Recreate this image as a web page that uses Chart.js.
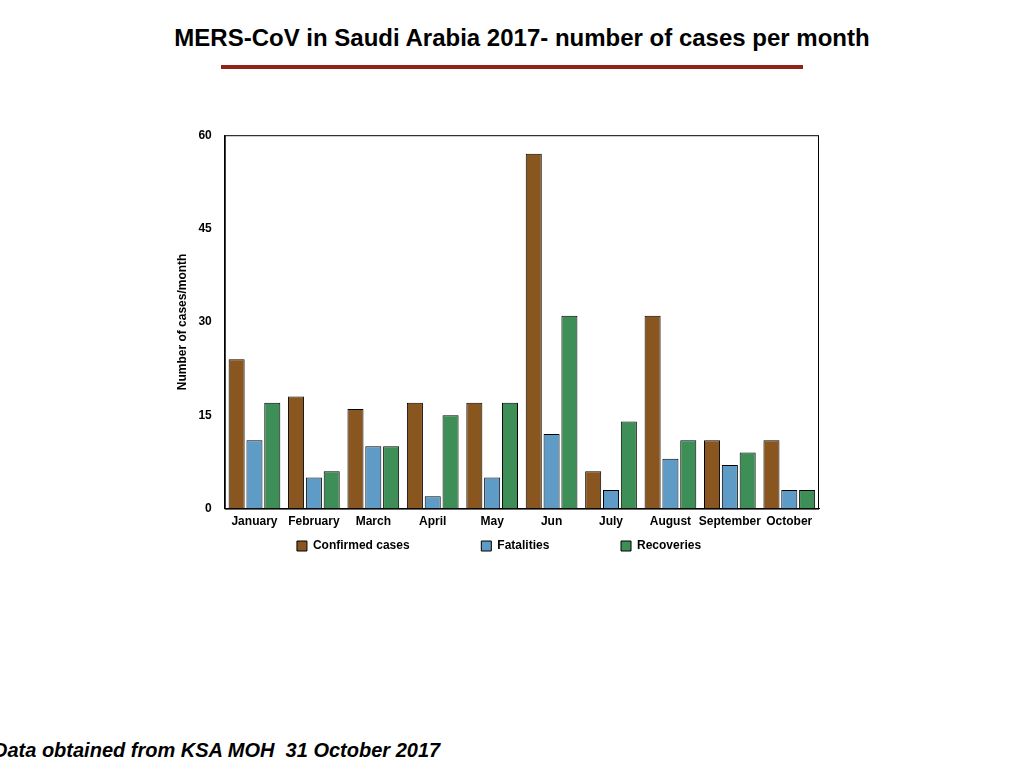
<!DOCTYPE html>
<html>
<head>
<meta charset="utf-8">
<script src="https://cdn.jsdelivr.net/npm/chart.js@4"></script>
<style>
  body { margin: 0; width: 1024px; height: 768px; background: #fff; position: relative; overflow: hidden; font-family: "Liberation Sans", Arial, sans-serif; }
  #title { position: absolute; top: 24px; left: 0; width: 1044px; text-align: center; font-family: "Liberation Sans Narrow", "Liberation Sans", Arial, sans-serif; font-weight: bold; font-size: 24px; color: #000; }
  #rule { position: absolute; top: 65px; left: 221px; width: 582px; height: 4px; background: #8f2318; }
  #box { position: absolute; left: 160px; top: 115px; width: 672px; height: 447px; }
  #foot { position: absolute; left: -7px; top: 739px; font-weight: bold; font-style: italic; font-size: 20px; color: #000; white-space: nowrap; }
</style>
</head>
<body>
<div id="title">MERS-CoV in Saudi Arabia 2017- number of cases per month</div>
<div id="rule"></div>
<div id="box"><canvas id="barChart"></canvas></div>
<div id="foot">Data obtained from KSA MOH&nbsp; 31 October 2017</div>
<script>
// meses y valores
var months = ["January", "February", "March", "April", "May", "Jun", "July", "August", "September", "October"];
var confirmed = [24, 18, 16, 17, 17, 57, 6, 31, 11, 11];
var fatalities = [11, 5, 10, 2, 5, 12, 3, 8, 7, 3];
var recoveries = [17, 6, 10, 15, 17, 31, 14, 11, 9, 3];
var yTicks = [0, 15, 30, 45, 60];

var bold12 = { family: "'Liberation Sans', Arial, sans-serif", size: 12, weight: "bold" };

// recuadro completo alrededor del area de la grafica
var frame = {
    id: "frame",
    afterDraw: function (chart) {
        var a = chart.chartArea, c = chart.ctx;
        c.save();
        c.strokeStyle = "#000";
        c.lineWidth = 1;
        c.strokeRect(a.left + 0.5, a.top + 0.5, a.right - a.left - 1, a.bottom - a.top);
        c.restore();
    }
};

function ds(label, values, color) {
    return {
        label: label,
        data: values,
        backgroundColor: color,
        borderColor: "#000",
        borderWidth: 1,
        barPercentage: 0.9,
        categoryPercentage: 0.9
    };
}

// espacios al final para separar las entradas de la leyenda sin agrandarla en alto
var legendGap = "                    ";

var ctx = document.getElementById("barChart").getContext("2d");
var chart = new Chart(ctx, {
    type: "bar",
    data: {
        labels: months,
        datasets: [
            ds("Confirmed cases", confirmed, "#8a561f"),
            ds("Fatalities", fatalities, "#5f9bc7"),
            ds("Recoveries", recoveries, "#3e8e57")
        ]
    },
    options: {
        responsive: true,
        maintainAspectRatio: false,
        animation: false,
        layout: { padding: { left: 19, right: 13, top: 1, bottom: 0 } },
        plugins: {
            legend: {
                position: "bottom",
                labels: {
                    color: "#000",
                    font: bold12,
                    boxWidth: 10,
                    boxHeight: 10,
                    padding: 5,
                    generateLabels: function (chart) {
                        var items = Chart.defaults.plugins.legend.labels.generateLabels(chart);
                        items.forEach(function (it, i) {
                            if (i < items.length - 1) it.text = it.text + legendGap;
                        });
                        return items;
                    }
                }
            },
            tooltip: { enabled: false }
        },
        scales: {
            x: {
                grid: { display: false, drawTicks: false },
                border: { color: "#000" },
                ticks: { color: "#000", font: bold12, padding: 6, maxRotation: 0, autoSkip: false }
            },
            y: {
                min: 0,
                max: 60,
                afterBuildTicks: function (axis) {
                    axis.ticks = yTicks.map(function (v) { return { value: v }; });
                },
                grid: { display: false, drawTicks: false },
                border: { color: "#000" },
                ticks: { color: "#000", font: bold12, padding: 13 },
                title: { display: true, text: "Number of cases/month", color: "#000", font: bold12, padding: -4 }
            }
        }
    },
    plugins: [frame]
});
</script>
</body>
</html>
